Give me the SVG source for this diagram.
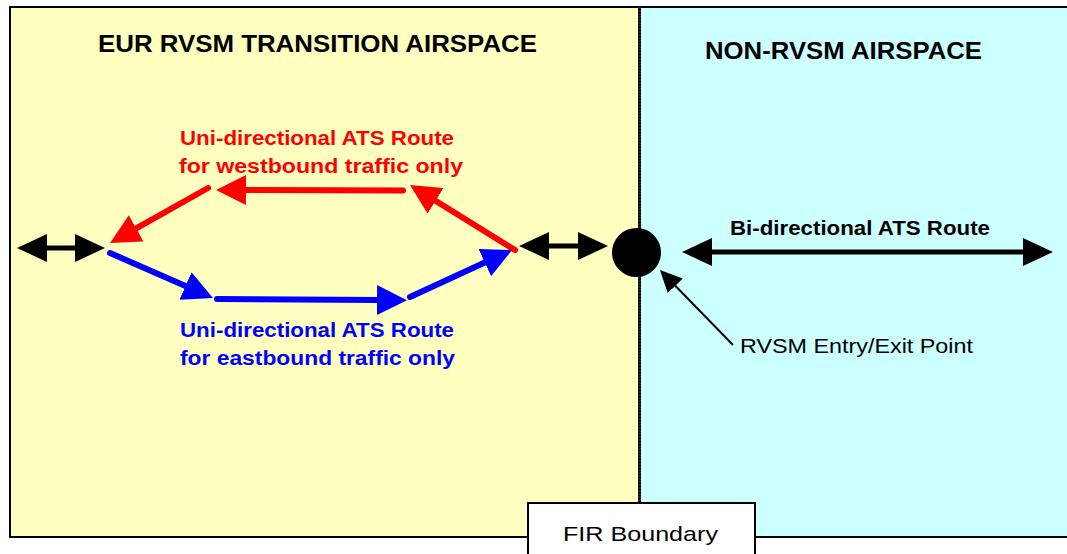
<svg xmlns="http://www.w3.org/2000/svg" width="1067" height="554" viewBox="0 0 1067 554">
  <style>
    .region { stroke: #000; stroke-width: 2; }
    .title { font-family: "Liberation Sans", Arial, sans-serif; font-weight: bold; font-size: 24px; fill: #000; }
    .lbl { font-family: "Liberation Sans", Arial, sans-serif; font-weight: bold; font-size: 20px; }
    .plain { font-family: "Liberation Sans", Arial, sans-serif; font-size: 21px; fill: #000; }
    .red { stroke: #FF0000; stroke-width: 6; stroke-linecap: round; fill: none; }
    .blue { stroke: #0000FF; stroke-width: 6; stroke-linecap: round; fill: none; }
    .blk { stroke: #000; stroke-width: 5; fill: none; }
    .lead { stroke: #000; stroke-width: 2; fill: none; }
  </style>
  <defs>
    <marker id="headRed" markerUnits="userSpaceOnUse" markerWidth="30" markerHeight="30" viewBox="0 0 30 30" refX="0" refY="15" orient="auto">
      <path d="M0,0 L30,15 L0,30 Z" fill="#FF0000"/>
    </marker>
    <marker id="headBlue" markerUnits="userSpaceOnUse" markerWidth="30" markerHeight="30" viewBox="0 0 30 30" refX="0" refY="15" orient="auto">
      <path d="M0,0 L30,15 L0,30 Z" fill="#0000FF"/>
    </marker>
    <marker id="headBlk" markerUnits="userSpaceOnUse" markerWidth="30" markerHeight="30" viewBox="0 0 30 30" refX="0" refY="15" orient="auto-start-reverse">
      <path d="M0,1 L30,15 L0,29 Z" fill="#000"/>
    </marker>
    <marker id="headLead" markerUnits="userSpaceOnUse" markerWidth="22" markerHeight="22" viewBox="0 0 22 22" refX="0" refY="11" orient="auto">
      <path d="M0,0.5 L22,11 L0,21.5 Z" fill="#000"/>
    </marker>
  </defs>

  <rect width="1067" height="554" fill="#fff"/>

  <!-- airspace regions -->
  <g id="eur-transition">
    <rect class="region" x="10" y="7" width="629" height="530" fill="#FFFFC0"/>
    <text class="title" x="98" y="52" textLength="439" lengthAdjust="spacingAndGlyphs">EUR RVSM TRANSITION AIRSPACE</text>
  </g>
  <g id="non-rvsm">
    <rect class="region" x="640" y="7" width="440" height="530" fill="#CCFFFF"/>
    <text class="title" x="705" y="59" textLength="277" lengthAdjust="spacingAndGlyphs">NON-RVSM AIRSPACE</text>
  </g>
  <g id="fir-line">
    <line x1="639.5" y1="7" x2="639.5" y2="503" stroke="#222" stroke-width="3" stroke-dasharray="2 1"/>
  </g>

  <!-- route labels -->
  <g id="westbound-label" class="lbl" fill="#FF0000">
    <text x="180" y="145" textLength="274" lengthAdjust="spacingAndGlyphs">Uni-directional ATS Route</text>
    <text x="179" y="173" textLength="284" lengthAdjust="spacingAndGlyphs">for westbound traffic only</text>
  </g>
  <g id="eastbound-label" class="lbl" fill="#0000FF">
    <text x="180" y="337" textLength="274" lengthAdjust="spacingAndGlyphs">Uni-directional ATS Route</text>
    <text x="180" y="365" textLength="275" lengthAdjust="spacingAndGlyphs">for eastbound traffic only</text>
  </g>
  <g id="bidirectional-label">
    <text class="lbl" fill="#000" font-size="19" x="730" y="235" textLength="260" lengthAdjust="spacingAndGlyphs">Bi-directional ATS Route</text>
  </g>

  <!-- entry/exit point -->
  <g id="entry-exit-point">
    <circle cx="636.5" cy="252.5" r="24.5" fill="#000"/>
    <text class="plain" x="740" y="353" textLength="233" lengthAdjust="spacingAndGlyphs">RVSM Entry/Exit Point</text>
  </g>

  <!-- connectors -->
  <g id="connectors">
    <!-- westbound route -->
    <line class="red" x1="515" y1="250" x2="435.5" y2="200.8" marker-end="url(#headRed)"/>
    <line class="red" x1="403" y1="190.5" x2="246" y2="190" marker-end="url(#headRed)"/>
    <line class="red" x1="208" y1="188" x2="136.2" y2="228.3" marker-end="url(#headRed)"/>
    <!-- eastbound route -->
    <line class="blue" x1="110" y1="253" x2="185.5" y2="286" marker-end="url(#headBlue)"/>
    <line class="blue" x1="217" y1="299" x2="377" y2="300" marker-end="url(#headBlue)"/>
    <line class="blue" x1="410" y1="297" x2="484.8" y2="262.6" marker-end="url(#headBlue)"/>
    <!-- two-way links -->
    <line class="blk" x1="47" y1="248" x2="75" y2="248" marker-start="url(#headBlk)" marker-end="url(#headBlk)"/>
    <line class="blk" x1="549" y1="246" x2="578" y2="246" marker-start="url(#headBlk)" marker-end="url(#headBlk)"/>
    <line class="blk" x1="712" y1="252" x2="1023" y2="252" marker-start="url(#headBlk)" marker-end="url(#headBlk)"/>
    <!-- pointer to entry/exit point -->
    <line class="lead" x1="733" y1="345" x2="675.3" y2="285.8" marker-end="url(#headLead)"/>
  </g>

  <g id="fir-boundary">
    <rect x="528" y="503" width="227" height="60" fill="#fff" stroke="#000" stroke-width="2"/>
    <text class="plain" font-size="23" x="563" y="541" textLength="155" lengthAdjust="spacingAndGlyphs">FIR Boundary</text>
  </g>
</svg>
